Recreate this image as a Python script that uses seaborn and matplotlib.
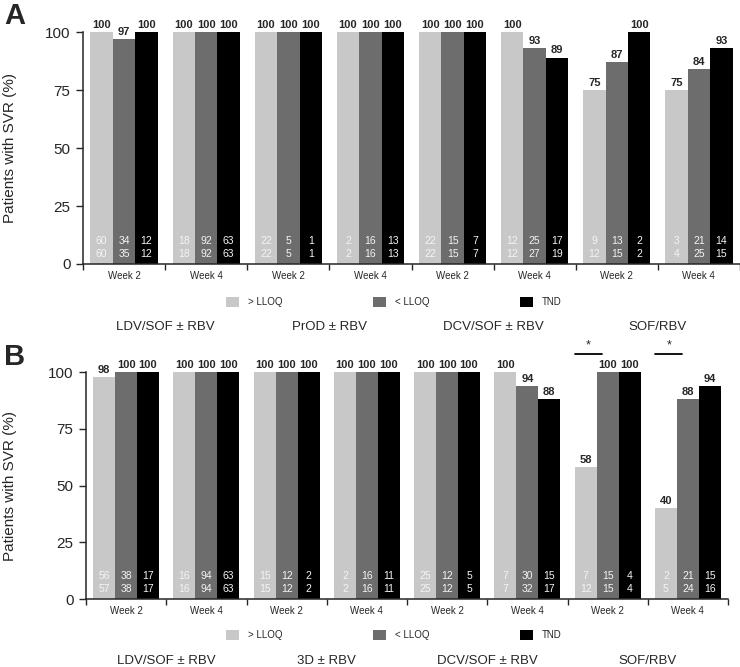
import matplotlib as mat
mat.use('Agg')
import matplotlib.pyplot as plt
from matplotlib.patches import Patch
import seaborn as sns
import pandas as pd

# categories
weeks = ['Week 2', 'Week 4'] * 4
regimens_a = ['LDV/SOF ± RBV', 'PrOD ± RBV', 'DCV/SOF ± RBV', 'SOF/RBV']
regimens_b = ['LDV/SOF ± RBV', '3D ± RBV', 'DCV/SOF ± RBV', 'SOF/RBV']
status = ['> LLOQ', '< LLOQ', 'TND']

# panel A: % SVR, responders (n) and total (N)
a_above = [100, 100, 100, 100, 100, 100, 75, 75]
a_below = [97, 100, 100, 100, 100, 93, 87, 84]
a_tnd = [100, 100, 100, 100, 100, 89, 100, 93]
a_n_above = [60, 18, 22, 2, 22, 12, 9, 3]
a_N_above = [60, 18, 22, 2, 22, 12, 12, 4]
a_n_below = [34, 92, 5, 16, 15, 25, 13, 21]
a_N_below = [35, 92, 5, 16, 15, 27, 15, 25]
a_n_tnd = [12, 63, 1, 13, 7, 17, 2, 14]
a_N_tnd = [12, 63, 1, 13, 7, 19, 2, 15]

# panel B
b_above = [98, 100, 100, 100, 100, 100, 58, 40]
b_below = [100, 100, 100, 100, 100, 94, 100, 88]
b_tnd = [100, 100, 100, 100, 100, 88, 100, 94]
b_n_above = [56, 16, 15, 2, 25, 7, 7, 2]
b_N_above = [57, 16, 15, 2, 25, 7, 12, 5]
b_n_below = [38, 94, 12, 16, 12, 30, 15, 21]
b_N_below = [38, 94, 12, 16, 12, 32, 15, 24]
b_n_tnd = [17, 63, 2, 11, 5, 15, 4, 15]
b_N_tnd = [17, 63, 2, 11, 5, 17, 4, 16]
b_sig = [6, 7]  # groups with * between > LLOQ and < LLOQ

colors = {'> LLOQ': '#c8c8c8', '< LLOQ': '#6d6d6d', 'TND': '#000000'}

sns.set_style('ticks')
plt.rcParams['font.family'] = ['Liberation Sans', 'DejaVu Sans']


def long_table(vals):
    rows = []
    for st, v in zip(status, vals):
        for i, p in enumerate(v):
            rows.append({'grp': 'g%d' % i, 'status': st, 'pct': p})
    return pd.DataFrame(rows)


def panel(ax, vals, ns, Ns, regimens, label_y, sig=()):
    df = long_table(vals)
    sns.barplot(data=df, x='grp', y='pct', hue='status', hue_order=status,
                palette=colors, saturation=1, width=0.82, gap=0,
                errorbar=None, legend=False, linewidth=0, edgecolor='none', ax=ax)
    ax.set_xlim(-0.5, 7.5)
    ax.set_ylim(0, 100)
    ax.set_yticks([0, 25, 50, 75, 100])
    ax.set_xticks(range(8))
    ax.set_xticklabels(weeks, fontsize=7)
    ax.set_xticks([i - 0.5 for i in range(9)], minor=True)
    ax.tick_params(axis='x', which='major', length=0, pad=5)
    ax.tick_params(axis='x', which='minor', length=4, width=1, direction='out')
    ax.tick_params(axis='y', length=5, width=1, labelsize=11, pad=4)
    ax.set_xlabel('')
    ax.set_ylabel('Patients with SVR (%)', fontsize=11)
    sns.despine(ax=ax)
    for sp in ax.spines.values():
        sp.set_linewidth(1.1)
    for cont, v, n, N in zip(ax.containers, vals, ns, Ns):
        for bar, p, a, b in zip(cont, v, n, N):
            xc = bar.get_x() + bar.get_width() / 2
            ax.annotate(str(p), xy=(xc, p), xytext=(0, 1.5),
                        textcoords='offset points', ha='center', va='bottom',
                        fontsize=8, fontweight='bold', annotation_clip=False)
            tc = '#f4f4f4'
            ax.text(xc, 10, str(a), ha='center', va='center', fontsize=7.5, color=tc)
            ax.text(xc, 4.2, str(b), ha='center', va='center', fontsize=7.5, color=tc)
    for g in sig:
        lo = ax.containers[0][g]
        hi = ax.containers[1][g]
        x0 = lo.get_x()
        x1 = hi.get_x() + 0.25 * hi.get_width()
        ax.plot([x0, x1], [108, 108], color='black', lw=1.3, clip_on=False)
        ax.text((x0 + x1) / 2, 109, '*', ha='center', va='bottom', fontsize=9)
    trans = ax.get_xaxis_transform()
    for k, r in enumerate(regimens):
        ax.text(2 * k + 0.5, label_y, r, transform=trans, ha='center',
                va='center', fontsize=9.5)


fig = plt.figure(figsize=(7.4, 6.67), dpi=100)
ax1 = fig.add_axes([83 / 740, 0.6042, 657 / 740, 0.3478])
ax2 = fig.add_axes([86 / 740, 0.1019, 642 / 740, 0.3403])

panel(ax1, [a_above, a_below, a_tnd], [a_n_above, a_n_below, a_n_tnd],
      [a_N_above, a_N_below, a_N_tnd], regimens_a, -(327 - 264) / 232)
panel(ax2, [b_above, b_below, b_tnd], [b_n_above, b_n_below, b_n_tnd],
      [b_N_above, b_N_below, b_N_tnd], regimens_b, -(661 - 599) / 227, sig=b_sig)

ax1.yaxis.set_label_coords(-0.100, 0.5)
ax2.yaxis.set_label_coords(-0.107, 0.5)

handles = [Patch(facecolor=colors[s], edgecolor='none') for s in status]
for y in (1 - 302 / 667, 1 - 635 / 667):
    fig.legend(handles, status, loc='center left', bbox_to_anchor=(226 / 740, y),
               ncol=3, frameon=False, fontsize=7, handlelength=1.35,
               handleheight=1.35, handletextpad=0.9, columnspacing=9.3,
               borderpad=0, borderaxespad=0)

fig.text(0.006, 0.997, 'A', fontsize=21, fontweight='bold', va='top', ha='left')
fig.text(0.006, 1 - 343 / 667, 'B', fontsize=21, fontweight='bold', va='top', ha='left')

fig.savefig('out.png', dpi=100)
